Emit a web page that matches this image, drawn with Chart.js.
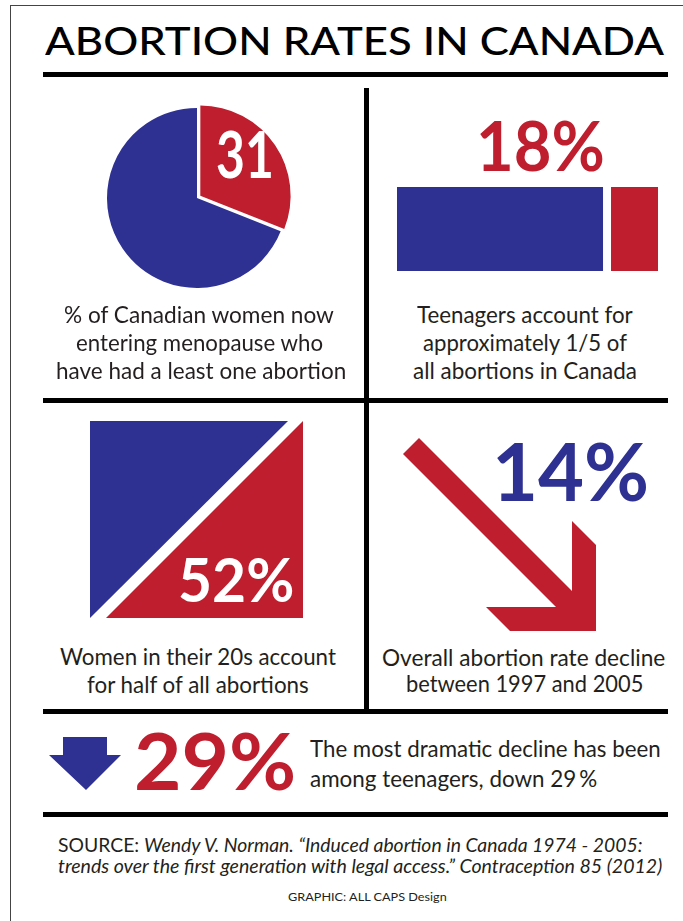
<!DOCTYPE html>
<html>
<head>
<meta charset="utf-8">
<script src="https://cdn.jsdelivr.net/npm/chart.js@4"></script>
<style>
html, body { margin: 0; padding: 0; background: #fff; }
#page { position: relative; width: 683px; height: 921px; overflow: hidden; background: #fff; font-family: Lato, "Noto Sans", sans-serif; color: #231f20; }
.frame { position: absolute; left: 10px; top: 5px; width: 800px; height: 1000px; border-left: 1px solid #444; border-top: 1px solid #444; }
.rule { position: absolute; background: #000; }
.tx { position: absolute; white-space: nowrap; line-height: 1; transform-origin: 0 0; }
.box { position: absolute; }
</style>
</head>
<body>
<div id="page">
  <div class="frame"></div>
  <div class="rule" style="left:43px;top:72px;width:625px;height:5px"></div>
  <div class="rule" style="left:43px;top:398px;width:625px;height:5px"></div>
  <div class="rule" style="left:43px;top:709px;width:625px;height:5px"></div>
  <div class="rule" style="left:43px;top:812px;width:625px;height:5px"></div>
  <div class="rule" style="left:364px;top:88px;width:5px;height:621px"></div>

  <div class="box" style="left:77px;top:78px;width:240px;height:240px"><canvas id="pie"></canvas></div>
  <div class="box" style="left:397px;top:187px;width:261px;height:84px"><canvas id="bar"></canvas></div>
  <div class="box" style="left:90px;top:421px;width:213px;height:197px"><canvas id="split"></canvas></div>
  <div class="box" style="left:400px;top:436px;width:198px;height:197px"><canvas id="arrow"></canvas></div>
  <div class="box" style="left:48px;top:736px;width:75px;height:55px"><canvas id="down"></canvas></div>
</div>
<script>
const BLUE = '#2e3192';
const RED = '#be1e2d';

// % of women entering menopause who have had at least one abortion
const PIE_LABELS = ['At least one abortion', 'None'];
const PIE_VALUES = [31, 69];
// share of all abortions: non-teen vs teen
const BAR_LABELS = ['Other ages', 'Teenagers'];
const BAR_VALUES = [82, 18];
// women in their 20s share of abortions
const TWENTIES_SHARE = 52;
// declines 1997-2005
const OVERALL_DECLINE = 14;
const TEEN_DECLINE = 29;

const page = document.getElementById('page');
const mctx = document.createElement('canvas').getContext('2d');
const fontStr = (s, fs) => `${s.it ? 'italic ' : ''}${s.wt} ${fs}px Lato`;

// place a line of text so its ink spans x..x+w with the given cap height and baseline
function place(segs, x, base, w, cap, color, wt) {
  if (typeof segs === 'string') segs = [{ t: segs }];
  segs.forEach(s => { s.wt = s.wt || wt || 400; });
  mctx.font = fontStr(segs[0], 100);
  const fs = cap / (mctx.measureText('H').actualBoundingBoxAscent / 100);
  let adv = 0, inkL = 0, inkR = 0, asc = 0, desc = 0;
  segs.forEach((s, i) => {
    mctx.font = fontStr(s, fs);
    const m = mctx.measureText(s.t);
    if (i === 0) inkL = -m.actualBoundingBoxLeft;
    if (i === segs.length - 1) inkR = adv + m.actualBoundingBoxRight;
    asc = Math.max(asc, m.fontBoundingBoxAscent);
    desc = Math.max(desc, m.fontBoundingBoxDescent);
    adv += m.width;
  });
  const sx = w / (inkR - inkL);
  const d = document.createElement('div');
  d.className = 'tx';
  segs.forEach(s => {
    const sp = document.createElement('span');
    sp.textContent = s.t;
    sp.style.fontStyle = s.it ? 'italic' : 'normal';
    sp.style.fontWeight = s.wt;
    d.appendChild(sp);
  });
  d.style.fontSize = fs + 'px';
  d.style.color = color || '#231f20';
  d.style.top = (base - ((fs - asc - desc) / 2 + asc)) + 'px';
  d.style.left = (x - inkL * sx) + 'px';
  d.style.transform = `scaleX(${sx})`;
  page.appendChild(d);
}

const base = {
  responsive: true, maintainAspectRatio: false, animation: false, events: [],
  layout: { padding: 0 },
  plugins: { legend: { display: false }, tooltip: { enabled: false } }
};

new Chart(document.getElementById('pie'), {
  type: 'pie',
  data: { labels: PIE_LABELS, datasets: [{ data: PIE_VALUES, backgroundColor: [RED, BLUE], borderWidth: 0, offset: [16, 0], radius: 90 }] },
  options: base
});

new Chart(document.getElementById('bar'), {
  type: 'bar',
  data: {
    labels: ['Abortions'],
    datasets: [
      { label: BAR_LABELS[0], data: [BAR_VALUES[0]], backgroundColor: BLUE, borderColor: '#fff',
        borderWidth: { top: 0, bottom: 0, left: 0, right: 8 }, borderSkipped: false, inflateAmount: 0 },
      { label: BAR_LABELS[1], data: [BAR_VALUES[1]], backgroundColor: RED, borderWidth: 0, inflateAmount: 0 }
    ]
  },
  options: {
    ...base,
    indexAxis: 'y',
    datasets: { bar: { barPercentage: 1, categoryPercentage: 1 } },
    scales: { x: { display: false, stacked: true, min: 0, max: 100 }, y: { display: false, stacked: true } }
  }
});

function shapeChart(id, draw) {
  return new Chart(document.getElementById(id), {
    type: 'scatter',
    data: { datasets: [] },
    options: { ...base, scales: { x: { display: false }, y: { display: false } } },
    plugins: [{ id: 'shape', afterDraw(c) { const a = c.chartArea; c.ctx.save(); c.ctx.translate(a.left, a.top); draw(c.ctx, a.width, a.height); c.ctx.restore(); } }]
  });
}

function poly(ctx, pts, color) {
  ctx.beginPath();
  pts.forEach(([x, y], i) => i ? ctx.lineTo(x, y) : ctx.moveTo(x, y));
  ctx.closePath();
  ctx.fillStyle = color;
  ctx.fill();
}

// square split on the diagonal
shapeChart('split', (ctx, w, h) => {
  poly(ctx, [[0, 0], [w - 15, 0], [0, h]], BLUE);
  poly(ctx, [[w, 0], [w, h], [16, h]], RED);
});

// falling arrow, points relative to the tip
shapeChart('arrow', (ctx, w, h) => {
  const tx = w - 2, ty = h - 2;
  const rel = [[-177, -193], [-24, -40], [-24, -110], [0, -86], [0, 0], [-86, 0], [-110, -24], [-40, -24], [-193, -177]];
  poly(ctx, rel.map(([x, y]) => [tx + x, ty + y]), RED);
});

// down arrow
shapeChart('down', (ctx, w, h) => {
  poly(ctx, [[15, 1], [59, 1], [59, 19], [73, 19], [38, 54], [1, 19], [15, 19]], BLUE);
});

// texts
place('ABORTION RATES IN CANADA', 45, 55, 620, 28, '#000', 500);

place(String(PIE_VALUES[0]), 218, 178, 54, 48, '#fff', 700);
place(BAR_VALUES[1] + '%', 480, 172, 123, 50, RED, 700);
place(TWENTIES_SHARE + '%', 180, 602, 113, 44, '#fff', 700);
place(OVERALL_DECLINE + '%', 497, 502, 150, 59, BLUE, 700);
place(TEEN_DECLINE + '%', 136, 790, 157, 57, RED, 700);

place('% of Canadian women now', 65, 323, 270, 17.5);
place('entering menopause who', 77, 351, 246, 17.5);
place('have had a least one abortion', 57, 379, 288, 17.5);

place('Teenagers account for', 417, 323, 216, 17.5);
place('approximately 1/5 of', 423, 351, 205, 17.5);
place('all abortions in Canada', 413, 379, 223, 17.5);

place('Women in their 20s account', 60, 666, 277, 17);
place('for half of all abortions', 87, 694, 223, 17);

place('Overall abortion rate decline', 383, 667, 282, 17);
place('between 1997 and 2005', 407, 693, 235, 17);

place('The most dramatic decline has been', 310, 758, 350, 16.5);
place('among teenagers, down ' + TEEN_DECLINE + '\u2009%', 310, 788, 287, 16.5);

place([{ t: 'SOURCE: ' }, { t: 'Wendy V. Norman. \u201CInduced abortion in Canada 1974 - 2005:', it: true }], 58, 852, 585, 13.5);
place([{ t: 'trends over the first generation with legal access.\u201D Contraception 85 (2012)', it: true }], 58, 873, 605, 13.5);
place('GRAPHIC: ALL CAPS Design', 288, 901, 159, 8.5);
</script>
</body>
</html>
